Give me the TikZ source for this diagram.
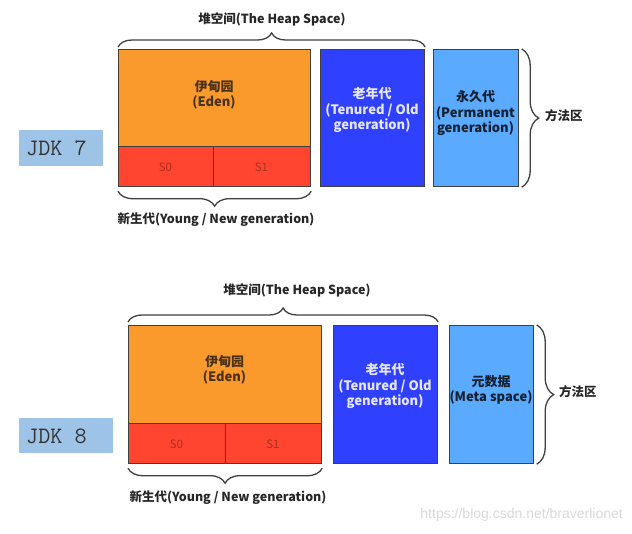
\documentclass[tikz,border=0pt]{standalone}
\usepackage{fontspec}
\setmainfont{Noto Sans CJK SC}
\newfontfamily\wmfont{Liberation Sans}
\usetikzlibrary{decorations.pathreplacing}
\definecolor{eden}{HTML}{FA9A2C}
\definecolor{surv}{HTML}{FF4530}
\definecolor{oldc}{HTML}{3040FF}
\definecolor{permc}{HTML}{5AABFF}
\definecolor{jdkc}{HTML}{9DC3E6}
\definecolor{edge}{HTML}{404040}
\definecolor{sred}{HTML}{A8321F}
\definecolor{edentxt}{HTML}{4A3218}
\definecolor{oldtxt}{HTML}{E6E8FF}
\definecolor{permtxt}{HTML}{16202E}
\definecolor{wm}{HTML}{D9D9D9}
\begin{document}
\begin{tikzpicture}[x=1pt,y=-1pt,
  area/.style={draw=edge, line width=1.2pt, inner sep=0pt, anchor=north west},
  lbl/.style={font=\fontsize{12.5}{15}\selectfont\bfseries, text=black!85, inner sep=0pt},
  intext/.style={font=\fontsize{13}{15.5}\selectfont\bfseries, align=center, inner sep=0pt},
  stext/.style={font=\fontsize{11.5}{13}\selectfont, text=sred, inner sep=0pt},
  brc/.style={decorate, decoration={brace, amplitude=#1}, draw=edge, line width=1.3pt},
  jdkbox/.style={fill=jdkc, inner sep=0pt, anchor=north west},
  jdktext/.style={font=\ttfamily\fontsize{23.5}{23.5}\selectfont, text=black!80, inner sep=0pt, anchor=west}
]
\fill[white] (0,0) rectangle (632,533);
\useasboundingbox (0,0) rectangle (632,533);

% ---------------- JDK 7 ----------------
\node[jdkbox, minimum width=84pt, minimum height=36pt] (jdk7box) at (19,130) {};
\node[jdktext] (jdk7) at (26,148) {JDK 7};

\node[area, fill=eden, minimum width=192pt, minimum height=97pt] (eden7) at (118,49) {};
\node[area, fill=surv, minimum width=95pt, minimum height=40pt] (s07) at (118,146) {};
\node[area, fill=surv, minimum width=97pt, minimum height=40pt] (s17) at (213,146) {};
\node[area, fill=oldc, minimum width=104pt, minimum height=137pt] (old7) at (320,49) {};
\node[area, fill=permc, minimum width=85pt, minimum height=137pt] (perm7) at (433,49) {};

\node[intext, text=edentxt] (edenT7) at (214,95) {伊甸园\\(Eden)};
\node[stext] (s0T7) at (165.5,167) {S0};
\node[stext] (s1T7) at (261.5,167) {S1};
\node[intext, text=oldtxt] (oldT7) at (372,110) {老年代\\(Tenured / Old\\generation)};
\node[intext, text=permtxt] (permT7) at (475.5,113) {永久代\\(Permanent\\generation)};

\draw[brc=14pt] ([yshift=2pt]eden7.north west) -- ([yshift=2pt]old7.north east);
\node[lbl] (heap7) at (272,19) {堆空间(The Heap Space)};
\draw[brc=15pt] ([yshift=-4pt]s17.south east) -- ([yshift=-4pt]s07.south west);
\node[lbl] (young7) at (216,220) {新生代(Young / New generation)};
\draw[brc=17pt] ([xshift=2.5pt]perm7.north east) -- ([xshift=2.5pt]perm7.south east);
\node[lbl, anchor=west] (ma7) at (545,116) {方法区};

% ---------------- JDK 8 ----------------
\node[jdkbox, minimum width=94pt, minimum height=35pt] (jdk8box) at (19,418) {};
\node[jdktext] (jdk8) at (26,436) {JDK 8};

\node[area, fill=eden, minimum width=193pt, minimum height=98pt] (eden8) at (128,325) {};
\node[area, fill=surv, minimum width=97pt, minimum height=40pt] (s08) at (128,423) {};
\node[area, fill=surv, minimum width=96pt, minimum height=40pt] (s18) at (225,423) {};
\node[area, fill=oldc, minimum width=104pt, minimum height=138pt] (old8) at (333,325) {};
\node[area, fill=permc, minimum width=84pt, minimum height=138pt] (meta8) at (449,325) {};

\node[intext, text=edentxt] (edenT8) at (224.5,370) {伊甸园\\(Eden)};
\node[stext] (s0T8) at (176.5,444) {S0};
\node[stext] (s1T8) at (273,444) {S1};
\node[intext, text=oldtxt] (oldT8) at (385,386) {老年代\\(Tenured / Old\\generation)};
\node[intext, text=permtxt] (metaT8) at (491,390) {元数据\\(Meta space)};

\draw[brc=14pt] ([yshift=3pt]eden8.north west) -- ([yshift=3pt]old8.north east);
\node[lbl] (heap8) at (297,290) {堆空间(The Heap Space)};
\draw[brc=15pt] ([yshift=-4pt]s18.south east) -- ([yshift=-4pt]s08.south west);
\node[lbl] (young8) at (228,498) {新生代(Young / New generation)};
\draw[brc=17pt] ([xshift=2.5pt]meta8.north east) -- ([xshift=2.5pt]meta8.south east);
\node[lbl, anchor=west] (ma8) at (559,392) {方法区};

\node[font=\wmfont\fontsize{14}{14}\selectfont, text=wm, anchor=east, inner sep=0pt] (wmark) at (623,515) {https://blog.csdn.net/braverlionet};
\end{tikzpicture}
\end{document}
